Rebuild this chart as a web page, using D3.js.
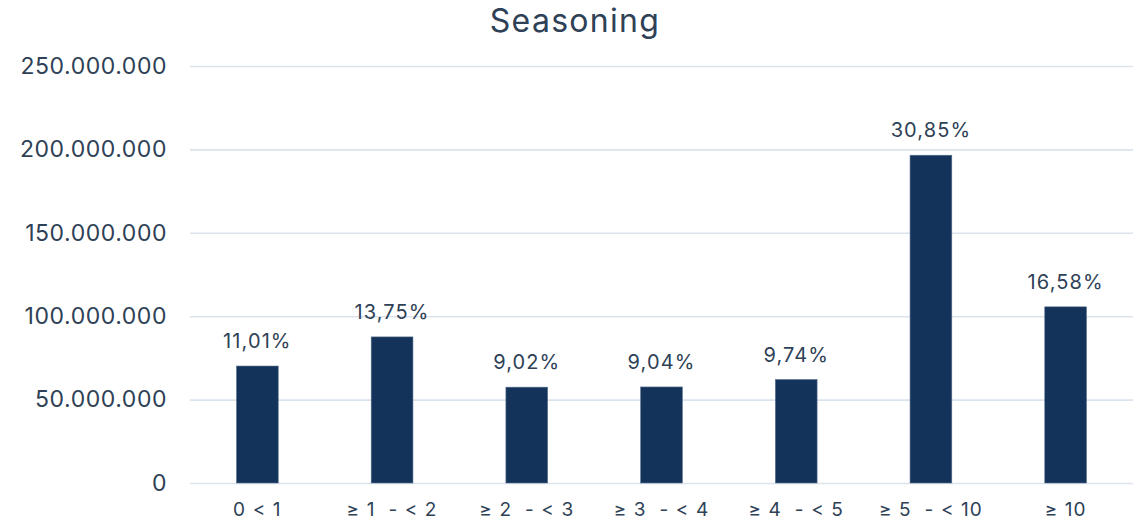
<!DOCTYPE html>
<html>
<head>
<meta charset="utf-8">
<script src="https://cdn.jsdelivr.net/npm/d3@7"></script>
<style>
  html, body { margin: 0; padding: 0; background: #ffffff; }
  svg { display: block; }
  text { font-family: Inter, "Open Sans", sans-serif; fill: #2e4156; }
</style>
</head>
<body>
<svg id="chart" width="1138" height="526"></svg>
<script>
// Seasoning buckets (years) and outstanding amounts
const categories = ["0 < 1", "\u2265 1  - < 2", "\u2265 2  - < 3", "\u2265 3  - < 4", "\u2265 4  - < 5", "\u2265 5  - < 10", "\u2265 10"];
const shares = [11.01, 13.75, 9.02, 9.04, 9.74, 30.85, 16.58];
const portfolioTotal = 637000000;
const amounts = shares.map(s => s / 100 * portfolioTotal);
const yTicks = [0, 50000000, 100000000, 150000000, 200000000, 250000000];
const title = "Seasoning";

const svg = d3.select("#chart");
const margin = { top: 66, right: 5, bottom: 43, left: 190 };
const width = 1138, height = 526;

const x = d3.scaleBand()
  .domain(categories)
  .range([margin.left, width - margin.right])
  .paddingInner(0.69)
  .paddingOuter(0.345);

const y = d3.scaleLinear()
  .domain([0, 250000000])
  .range([height - margin.bottom, margin.top]);

const fmtAxis = v => d3.format(",")(v).replace(/,/g, ".");
const fmtPct = v => v.toFixed(2).replace(".", ",") + "%";

// Horizontal gridlines with tick labels
const yAxis = d3.axisLeft(y)
  .tickValues(yTicks)
  .tickSize(-(width - margin.left - margin.right))
  .tickPadding(23)
  .tickFormat(fmtAxis);

const gy = svg.append("g")
  .attr("transform", `translate(${margin.left},0)`)
  .call(yAxis);
gy.select(".domain").remove();
gy.selectAll(".tick line").attr("stroke", "#dbe3ec").attr("stroke-width", 1.6);
gy.selectAll(".tick text")
  .style("font-size", "23px")
  .style("letter-spacing", "0.55px")
  .attr("fill", "#2e4156");

// Category labels
const xAxis = d3.axisBottom(x).tickSize(0).tickPadding(20);
const gx = svg.append("g")
  .attr("transform", `translate(0,${height - margin.bottom})`)
  .call(xAxis);
gx.select(".domain").remove();
gx.selectAll(".tick text")
  .style("font-size", "19px")
  .style("letter-spacing", "1.1px")
  .attr("fill", "#2e4156")
  .style("white-space", "pre")
  .attr("xml:space", "preserve");

// Bars
svg.append("g").selectAll("rect")
  .data(amounts)
  .join("rect")
  .attr("x", (d, i) => x(categories[i]))
  .attr("y", d => y(d))
  .attr("width", x.bandwidth())
  .attr("height", d => y(0) - y(d))
  .attr("fill", "#14335a")
  .attr("stroke", "#5d7390")
  .attr("stroke-width", 0.6);

// Share labels above bars
svg.append("g").selectAll("text")
  .data(amounts)
  .join("text")
  .attr("x", (d, i) => x(categories[i]) + x.bandwidth() / 2)
  .attr("y", d => y(d) - 18)
  .attr("text-anchor", "middle")
  .style("font-size", "20px")
  .style("letter-spacing", "1.1px")
  .text((d, i) => fmtPct(shares[i]));

// Title
svg.append("text")
  .attr("x", 575)
  .attr("y", 32)
  .attr("text-anchor", "middle")
  .style("font-size", "32px")
  .style("letter-spacing", "1.3px")
  .text(title);
</script>
</body>
</html>
